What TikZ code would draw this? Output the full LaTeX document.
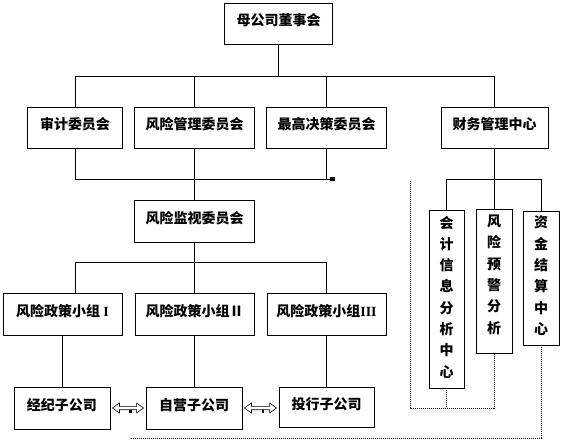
\documentclass[tikz,border=0pt]{standalone}
\usepackage{fontspec}
\setmainfont{Noto Sans CJK SC}
\newfontfamily\lser{Liberation Serif}
\usetikzlibrary{calc}
\newcommand\hollowdarrow[2]{%
  \draw[fill=white, line width=0.6pt] let \p1=(#1.east), \p2=(#2.west) in
    (\x1+2pt,\y1) -- (\x1+9pt,\y1+5pt) -- (\x1+9pt,\y1+1.7pt) -- (\x2-9pt,\y1+1.7pt)
    -- (\x2-9pt,\y1+5pt) -- (\x2-2pt,\y1) -- (\x2-9pt,\y1-5pt) -- (\x2-9pt,\y1-1.7pt)
    -- (\x1+9pt,\y1-1.7pt) -- (\x1+9pt,\y1-5pt) -- cycle;
  \fill let \p1=(#1.east), \p2=(#2.west) in
    ({(\x1+\x2)/2+1.2pt},\y1-1.7pt) rectangle ++(2.6pt,-3.2pt);
}
\begin{document}
\begin{tikzpicture}[x=1pt,y=-1pt, line width=0.9pt,
  box/.style={draw, inner sep=0pt, font=\bfseries\fontsize{14}{16}\selectfont,
    text height=9.5pt, text depth=4.5pt},
  vbox/.style={draw, inner sep=0pt},
  vtext/.style={inner sep=0pt, anchor=north, align=center,
    font=\bfseries\fontsize{14}{21.3}\selectfont},
  dotline/.style={dash pattern=on 1pt off 1pt, line width=0.8pt}]
\useasboundingbox (0,0) rectangle (563,441);

% boxes
\node[box, minimum width=108pt, minimum height=41pt] (mu) at (278.5,23.5) {母公司董事会};
\node[box, minimum width=95pt, minimum height=41pt] (sj) at (75,127.5) {审计委员会};
\node[box, minimum width=120pt, minimum height=41pt] (fg) at (194.5,127.5) {风险管理委员会};
\node[box, minimum width=120pt, minimum height=41pt] (zg) at (326.5,127.5) {最高决策委员会};
\node[box, minimum width=107pt, minimum height=41pt] (cw) at (494.5,127.5) {财务管理中心};
\node[box, minimum width=120pt, minimum height=42pt] (js) at (194.5,221) {风险监视委员会};
\node[box, minimum width=119pt, minimum height=42pt] (z1) at (62.5,314) {风险政策小组 {\lser I}};
\node[box, minimum width=119pt, minimum height=42pt] (z2) at (194.5,314) {风险政策小组Ⅱ};
\node[box, minimum width=119pt, minimum height=42pt] (z3) at (326.5,314) {风险政策小组{\lser III}};
\node[box, minimum width=96pt, minimum height=42pt] (jj) at (62,408) {经纪子公司};
\node[box, minimum width=96pt, minimum height=42pt] (zy) at (194,408) {自营子公司};
\node[box, minimum width=95pt, minimum height=40pt] (tx) at (326.5,407) {投行子公司};

\node[vbox, minimum width=35pt, minimum height=178pt] (kj) at (446.5,299) {};
\node[vtext] (kjt) at ($(kj.north)+(0,6)$) {会\\计\\信\\息\\分\\析\\中\\心};
\node[vbox, minimum width=36pt, minimum height=144pt] (yj) at (494,281) {};
\node[vtext] (yjt) at ($(yj.north)+(0,6)$) {风\\险\\预\\警\\分\\析};
\node[vbox, minimum width=36pt, minimum height=134pt] (zj) at (541,278) {};
\node[vtext] (zjt) at ($(zj.north)+(0,5)$) {资\\金\\结\\算\\中\\心};

% top bus
\coordinate (b1) at (0,76);
\draw (mu.south) -- (mu.south |- b1);
\draw (sj.north |- b1) -- (cw.north |- b1);
\foreach \n in {sj,fg,zg,cw} \draw (\n.north |- b1) -- (\n.north);

% second bus
\coordinate (b2) at (0,179);
\coordinate (mk) at (330,179);
\draw (sj.south) -- (sj.south |- b2) -- (mk);
\draw (zg.south) -- (zg.south |- b2);
\fill (mk) ++(0,-2) rectangle ++(5,4);

\draw (fg.south) -- (js.north);

% policy groups
\coordinate (b3) at (0,262);
\coordinate (t1) at (75,262);
\draw (js.south) -- (js.south |- b3);
\draw (t1) -- (z3.north |- b3);
\draw (t1) -- (t1 |- z1.north);
\draw (z2.north |- b3) -- (z2.north);
\draw (z3.north |- b3) -- (z3.north);
\draw (z1.south) -- (z1.south |- jj.north);
\draw (z2.south) -- (z2.south |- zy.north);
\draw (z3.south) -- (tx.north);

% finance
\draw (cw.south) -- (cw.south |- b2);
\draw (kj.north |- b2) -- (zj.north |- b2);
\foreach \n in {kj,yj,zj} \draw (\n.north |- b2) -- (\n.north);

% dotted
\coordinate (d1) at (410,181);
\coordinate (d2) at (410,408);
\coordinate (d3) at (130,438);
\draw[dotline] (d1) -- (d2) -- (d2 -| yj.south) -- (yj.south);
\draw[dotline] (kj.south) -- (kj.south |- d2);
\draw[dotline] (zj.south) -- (zj.south |- d3) -- (d3);

% double arrows
\hollowdarrow{jj}{zy}
\hollowdarrow{zy}{tx}
\end{tikzpicture}
\end{document}
